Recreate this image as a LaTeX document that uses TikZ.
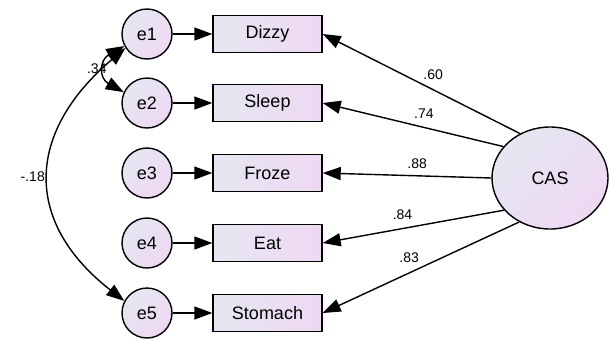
\documentclass[tikz,border=0pt]{standalone}
\usepackage{fontspec}
\setmainfont{Liberation Sans}
\usetikzlibrary{arrows.meta,shapes.geometric}
\definecolor{cA}{HTML}{E4E7F1}
\definecolor{cB}{HTML}{EFD8F3}
\begin{document}
\begin{tikzpicture}[x=1pt,y=-1pt,
  tip/.style={-{Triangle[length=18pt,width=13pt]}},
  dtip/.style={{Triangle[length=18pt,width=13pt]}-{Triangle[length=18pt,width=13pt]}},
  conn/.style={line width=1.4pt},
  errc/.style={circle,draw,line width=1.4pt,minimum size=50pt,inner sep=0pt,
    left color=cA,right color=cB,shading angle=45,font=\fontsize{18}{20}\selectfont},
  obsbox/.style={rectangle,draw,line width=1.4pt,minimum width=109pt,minimum height=37pt,
    inner sep=0pt,left color=cA,right color=cB,font=\fontsize{18}{20}\selectfont},
  lat/.style={ellipse,draw,line width=1.4pt,minimum width=116pt,minimum height=102pt,
    inner sep=0pt,left color=cA,right color=cB,shading angle=45,font=\fontsize{18}{20}\selectfont},
  lbl/.style={font=\fontsize{14}{16}\selectfont,inner sep=1pt}]
\useasboundingbox (0,0) rectangle (610,338);
% error terms
\node[errc] (e1) at (147,34) {e1};
\node[errc] (e2) at (147,103) {e2};
\node[errc] (e3) at (147,173) {e3};
\node[errc] (e4) at (147,243) {e4};
\node[errc] (e5) at (147,313) {e5};
% observed
\node[obsbox] (dizzy) at (267.5,34) {Dizzy};
\node[obsbox] (sleep) at (267.5,103) {Sleep};
\node[obsbox] (froze) at (267.5,173) {Froze};
\node[obsbox] (eat) at (267.5,243) {Eat};
\node[obsbox] (stomach) at (267.5,313) {Stomach};
% latent
\node[lat] (cas) at (550,178) {CAS};
% error arrows
\draw[conn,tip] (e1) -- (dizzy);
\draw[conn,tip] (e2) -- (sleep);
\draw[conn,tip] (e3) -- (froze);
\draw[conn,tip] (e4) -- (eat);
\draw[conn,tip] (e5) -- (stomach);
% loadings
\draw[conn,tip] (cas.124) -- (dizzy.east) node[lbl,pos=0.44,above=8pt] {.60};
\draw[conn,tip] (cas.146) -- (sleep.east) node[lbl,pos=0.44,above=7pt] {.74};
\draw[conn,tip] (cas.180) -- (froze.east) node[lbl,pos=0.44,above=5pt] {.88};
\draw[conn,tip] (cas.215) -- (eat.east) node[lbl,pos=0.56,above=7pt] {.84};
\draw[conn,tip] (cas.235) -- (stomach.east) node[lbl,pos=0.56,above=9pt] {.83};
% covariances
\draw[conn,dtip] (e1.208) .. controls +(-25,14) and +(-25,-14) .. (e2.155)
  node[lbl,pos=0.5,left=-3pt] {.34};
\draw[conn,dtip] (e1.213) .. controls +(-100,85) and +(-101,-79) .. (e5.152)
  node[lbl,pos=0.5,left=3pt] {-.18};
\end{tikzpicture}
\end{document}
